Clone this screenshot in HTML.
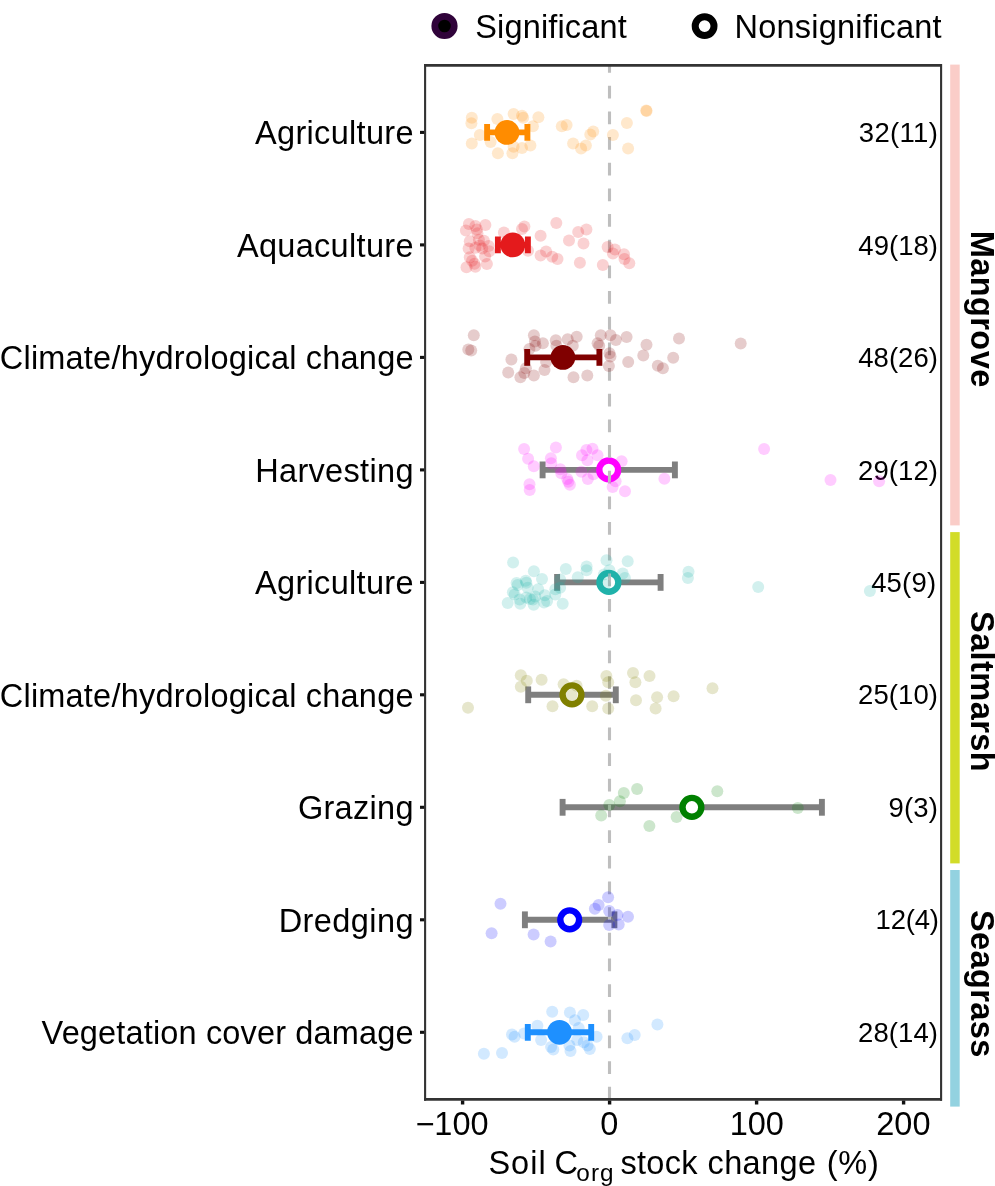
<!DOCTYPE html>
<html><head><meta charset="utf-8"><title>Soil Corg stock change</title>
<style>html,body{margin:0;padding:0;background:#fff}svg{display:block;will-change:transform}text{font-family:"Liberation Sans",sans-serif;fill:#000}</style></head><body>
<svg width="995" height="1186" viewBox="0 0 995 1186">
<rect x="0" y="0" width="995" height="1186" fill="#fff"/>
<defs><clipPath id="pc"><rect x="425" y="65" width="516" height="1034.5"/></clipPath></defs>
<rect x="950.2" y="64.6" width="9.5" height="460.8" fill="#FACDC8"/>
<rect x="950.2" y="532.1" width="9.5" height="331.3" fill="#D2DC28"/>
<rect x="950.2" y="870" width="9.5" height="236.6" fill="#93D2E0"/>
<g clip-path="url(#pc)">
<g stroke="#FF8C00" stroke-width="5.9" fill="none"><line x1="487.1" y1="132.4" x2="527.4" y2="132.4"/><line x1="487.1" y1="124.0" x2="487.1" y2="140.8"/><line x1="527.4" y1="124.0" x2="527.4" y2="140.8"/></g>
<circle cx="507.0" cy="132.4" r="12.4" fill="#FF8C00"/>
<g stroke="#E41A1C" stroke-width="5.9" fill="none"><line x1="497.9" y1="244.9" x2="527.9" y2="244.9"/><line x1="497.9" y1="236.5" x2="497.9" y2="253.3"/><line x1="527.9" y1="236.5" x2="527.9" y2="253.3"/></g>
<circle cx="512.8" cy="244.9" r="12.4" fill="#E41A1C"/>
<g stroke="#800000" stroke-width="5.9" fill="none"><line x1="527.2" y1="357.4" x2="599.4" y2="357.4"/><line x1="527.2" y1="349.0" x2="527.2" y2="365.8"/><line x1="599.4" y1="349.0" x2="599.4" y2="365.8"/></g>
<circle cx="562.9" cy="357.4" r="12.4" fill="#800000"/>
<g stroke="#7F7F7F" stroke-width="5.9" fill="none"><line x1="542.6" y1="469.9" x2="674.9" y2="469.9"/><line x1="542.6" y1="461.5" x2="542.6" y2="478.3"/><line x1="674.9" y1="461.5" x2="674.9" y2="478.3"/></g>
<circle cx="608.7" cy="469.9" r="9.4" fill="#fff" stroke="#FF00FF" stroke-width="6.4"/>
<g stroke="#7F7F7F" stroke-width="5.9" fill="none"><line x1="557.1" y1="582.4" x2="660.6" y2="582.4"/><line x1="557.1" y1="574.0" x2="557.1" y2="590.8"/><line x1="660.6" y1="574.0" x2="660.6" y2="590.8"/></g>
<circle cx="608.9" cy="582.4" r="9.4" fill="#fff" stroke="#20B2AA" stroke-width="6.4"/>
<g stroke="#7F7F7F" stroke-width="5.9" fill="none"><line x1="528.2" y1="694.8" x2="615.8" y2="694.8"/><line x1="528.2" y1="686.4" x2="528.2" y2="703.2"/><line x1="615.8" y1="686.4" x2="615.8" y2="703.2"/></g>
<circle cx="572.0" cy="694.8" r="9.4" fill="#fff" stroke="#808000" stroke-width="6.4"/>
<g stroke="#7F7F7F" stroke-width="5.9" fill="none"><line x1="562.6" y1="807.3" x2="821.9" y2="807.3"/><line x1="562.6" y1="798.9" x2="562.6" y2="815.7"/><line x1="821.9" y1="798.9" x2="821.9" y2="815.7"/></g>
<circle cx="691.9" cy="807.3" r="9.4" fill="#fff" stroke="#008000" stroke-width="6.4"/>
<g stroke="#7F7F7F" stroke-width="5.9" fill="none"><line x1="524.9" y1="919.8" x2="614.4" y2="919.8"/><line x1="524.9" y1="911.4" x2="524.9" y2="928.2"/><line x1="614.4" y1="911.4" x2="614.4" y2="928.2"/></g>
<circle cx="569.7" cy="919.8" r="9.4" fill="#fff" stroke="#0000FF" stroke-width="6.4"/>
<g stroke="#1E90FF" stroke-width="5.9" fill="none"><line x1="527.8" y1="1032.3" x2="591.2" y2="1032.3"/><line x1="527.8" y1="1023.9" x2="527.8" y2="1040.7"/><line x1="591.2" y1="1023.9" x2="591.2" y2="1040.7"/></g>
<circle cx="559.5" cy="1032.3" r="12.4" fill="#1E90FF"/>
<line x1="609.5" y1="1099.6" x2="609.5" y2="55" stroke="#BEBEBE" stroke-width="3.1" stroke-dasharray="12.75 12.92"/>
<text x="858.8" y="142.0" font-size="27.5" letter-spacing="0.33">32(11)</text>
<text x="858.35" y="254.5" font-size="27.5" letter-spacing="0.02">49(18)</text>
<text x="858.25" y="367.0" font-size="27.5" letter-spacing="0.04">48(26)</text>
<text x="858.0" y="479.5" font-size="27.5" letter-spacing="0.09">29(12)</text>
<text x="871.15" y="592.0" font-size="27.5" letter-spacing="0.19">45(9)</text>
<text x="858.0" y="704.4" font-size="27.5" letter-spacing="0.09">25(10)</text>
<text x="888.45" y="816.9" font-size="27.5" letter-spacing="0.17">9(3)</text>
<text x="875.6" y="929.4" font-size="27.5" letter-spacing="-0.22">12(4)</text>
<text x="858.0" y="1041.9" font-size="27.5" letter-spacing="0.09">28(14)</text>
<g fill="#FF8C00" fill-opacity="0.2"><circle cx="471.8" cy="117.7" r="6.0"/><circle cx="471.4" cy="123.3" r="6.0"/><circle cx="479.8" cy="135.1" r="6.0"/><circle cx="471.8" cy="143.5" r="6.0"/><circle cx="497.4" cy="118.9" r="6.0"/><circle cx="490.6" cy="141.9" r="6.0"/><circle cx="497.9" cy="153.2" r="6.0"/><circle cx="513.6" cy="114.1" r="6.0"/><circle cx="522.0" cy="115.8" r="6.0"/><circle cx="523.2" cy="117.7" r="6.0"/><circle cx="538.4" cy="117.3" r="6.0"/><circle cx="532.9" cy="126.2" r="6.0"/><circle cx="530.4" cy="145.5" r="6.0"/><circle cx="522.0" cy="147.9" r="6.0"/><circle cx="513.6" cy="146.7" r="6.0"/><circle cx="512.4" cy="153.2" r="6.0"/><circle cx="561.8" cy="126.2" r="6.0"/><circle cx="566.6" cy="125.0" r="6.0"/><circle cx="573.1" cy="143.5" r="6.0"/><circle cx="581.1" cy="148.4" r="6.0"/><circle cx="585.9" cy="145.5" r="6.0"/><circle cx="590.3" cy="134.6" r="6.0"/><circle cx="593.2" cy="131.5" r="6.0"/><circle cx="612.9" cy="135.1" r="6.0"/><circle cx="626.9" cy="123.0" r="6.0"/><circle cx="628.1" cy="148.6" r="6.0"/><circle cx="646.2" cy="110.5" r="6.0"/><circle cx="646.6" cy="111.0" r="6.0"/></g>
<g fill="#E41A1C" fill-opacity="0.2"><circle cx="468.9" cy="223.9" r="6.0"/><circle cx="465.9" cy="230.4" r="6.0"/><circle cx="475.4" cy="225.9" r="6.0"/><circle cx="476.8" cy="229.5" r="6.0"/><circle cx="485.4" cy="225.1" r="6.0"/><circle cx="477.4" cy="233.3" r="6.0"/><circle cx="469.8" cy="241.3" r="6.0"/><circle cx="478.9" cy="239.8" r="6.0"/><circle cx="483.9" cy="240.7" r="6.0"/><circle cx="468.6" cy="248.4" r="6.0"/><circle cx="475.4" cy="247.8" r="6.0"/><circle cx="479.8" cy="245.4" r="6.0"/><circle cx="482.2" cy="248.4" r="6.0"/><circle cx="488.6" cy="246.0" r="6.0"/><circle cx="489.2" cy="251.3" r="6.0"/><circle cx="469.8" cy="257.2" r="6.0"/><circle cx="472.1" cy="260.8" r="6.0"/><circle cx="474.5" cy="263.7" r="6.0"/><circle cx="485.1" cy="256.6" r="6.0"/><circle cx="486.9" cy="264.0" r="6.0"/><circle cx="466.5" cy="267.3" r="6.0"/><circle cx="475.4" cy="266.7" r="6.0"/><circle cx="503.9" cy="232.6" r="6.0"/><circle cx="522.0" cy="228.9" r="6.0"/><circle cx="524.4" cy="226.5" r="6.0"/><circle cx="528.0" cy="250.7" r="6.0"/><circle cx="540.6" cy="235.7" r="6.0"/><circle cx="540.6" cy="255.5" r="6.0"/><circle cx="546.1" cy="251.4" r="6.0"/><circle cx="552.2" cy="256.7" r="6.0"/><circle cx="557.5" cy="259.1" r="6.0"/><circle cx="556.3" cy="222.9" r="6.0"/><circle cx="569.0" cy="240.5" r="6.0"/><circle cx="578.2" cy="232.1" r="6.0"/><circle cx="586.4" cy="229.4" r="6.0"/><circle cx="583.5" cy="243.4" r="6.0"/><circle cx="579.9" cy="262.7" r="6.0"/><circle cx="602.8" cy="265.1" r="6.0"/><circle cx="607.6" cy="247.0" r="6.0"/><circle cx="614.9" cy="249.4" r="6.0"/><circle cx="612.9" cy="253.5" r="6.0"/><circle cx="624.0" cy="254.3" r="6.0"/><circle cx="624.5" cy="259.1" r="6.0"/><circle cx="629.3" cy="263.2" r="6.0"/></g>
<g fill="#800000" fill-opacity="0.2"><circle cx="473.8" cy="335.2" r="6.0"/><circle cx="468.3" cy="349.6" r="6.0"/><circle cx="471.2" cy="350.6" r="6.0"/><circle cx="511.4" cy="359.6" r="6.0"/><circle cx="508.2" cy="372.5" r="6.0"/><circle cx="520.4" cy="377.3" r="6.0"/><circle cx="524.3" cy="373.1" r="6.0"/><circle cx="525.9" cy="368.3" r="6.0"/><circle cx="533.9" cy="375.4" r="6.0"/><circle cx="544.5" cy="369.9" r="6.0"/><circle cx="546.1" cy="361.9" r="6.0"/><circle cx="529.4" cy="349.0" r="6.0"/><circle cx="533.9" cy="335.2" r="6.0"/><circle cx="534.9" cy="341.6" r="6.0"/><circle cx="535.5" cy="345.8" r="6.0"/><circle cx="542.9" cy="343.2" r="6.0"/><circle cx="555.8" cy="340.3" r="6.0"/><circle cx="556.4" cy="345.8" r="6.0"/><circle cx="567.7" cy="339.3" r="6.0"/><circle cx="572.8" cy="345.8" r="6.0"/><circle cx="576.7" cy="336.8" r="6.0"/><circle cx="573.5" cy="377.3" r="6.0"/><circle cx="587.3" cy="375.4" r="6.0"/><circle cx="597.6" cy="343.2" r="6.0"/><circle cx="599.2" cy="345.8" r="6.0"/><circle cx="600.8" cy="335.2" r="6.0"/><circle cx="610.5" cy="335.2" r="6.0"/><circle cx="615.9" cy="340.0" r="6.0"/><circle cx="609.5" cy="353.2" r="6.0"/><circle cx="610.5" cy="356.4" r="6.0"/><circle cx="608.9" cy="366.0" r="6.0"/><circle cx="626.6" cy="337.1" r="6.0"/><circle cx="628.2" cy="361.9" r="6.0"/><circle cx="643.3" cy="355.4" r="6.0"/><circle cx="646.5" cy="344.8" r="6.0"/><circle cx="657.8" cy="365.7" r="6.0"/><circle cx="662.9" cy="368.3" r="6.0"/><circle cx="673.2" cy="357.7" r="6.0"/><circle cx="679.0" cy="338.4" r="6.0"/><circle cx="740.7" cy="343.5" r="6.0"/></g>
<g fill="#FF00FF" fill-opacity="0.2"><circle cx="524.1" cy="449.1" r="6.0"/><circle cx="528.1" cy="458.8" r="6.0"/><circle cx="533.8" cy="466.2" r="6.0"/><circle cx="529.5" cy="484.3" r="6.0"/><circle cx="529.7" cy="489.9" r="6.0"/><circle cx="555.9" cy="447.5" r="6.0"/><circle cx="550.9" cy="458.2" r="6.0"/><circle cx="551.3" cy="463.2" r="6.0"/><circle cx="560.3" cy="469.2" r="6.0"/><circle cx="561.3" cy="473.2" r="6.0"/><circle cx="567.3" cy="478.9" r="6.0"/><circle cx="568.3" cy="481.7" r="6.0"/><circle cx="569.9" cy="484.7" r="6.0"/><circle cx="582.0" cy="455.2" r="6.0"/><circle cx="586.4" cy="450.1" r="6.0"/><circle cx="592.5" cy="448.7" r="6.0"/><circle cx="597.5" cy="455.2" r="6.0"/><circle cx="587.4" cy="460.2" r="6.0"/><circle cx="581.4" cy="471.8" r="6.0"/><circle cx="587.8" cy="478.9" r="6.0"/><circle cx="593.5" cy="474.2" r="6.0"/><circle cx="621.6" cy="461.2" r="6.0"/><circle cx="615.6" cy="481.3" r="6.0"/><circle cx="612.6" cy="486.9" r="6.0"/><circle cx="625.0" cy="491.3" r="6.0"/><circle cx="664.4" cy="478.7" r="6.0"/><circle cx="764.1" cy="449.1" r="6.0"/><circle cx="830.5" cy="480.1" r="6.0"/><circle cx="879.1" cy="481.3" r="6.0"/></g>
<g fill="#20B2AA" fill-opacity="0.2"><circle cx="513.1" cy="562.4" r="6.0"/><circle cx="533.9" cy="571.2" r="6.0"/><circle cx="542.0" cy="578.9" r="6.0"/><circle cx="565.8" cy="569.0" r="6.0"/><circle cx="525.7" cy="580.7" r="6.0"/><circle cx="526.3" cy="582.7" r="6.0"/><circle cx="516.6" cy="582.9" r="6.0"/><circle cx="517.7" cy="585.1" r="6.0"/><circle cx="512.9" cy="592.2" r="6.0"/><circle cx="514.7" cy="594.4" r="6.0"/><circle cx="507.7" cy="603.0" r="6.0"/><circle cx="520.3" cy="603.7" r="6.0"/><circle cx="530.0" cy="598.9" r="6.0"/><circle cx="533.0" cy="599.6" r="6.0"/><circle cx="533.7" cy="604.8" r="6.0"/><circle cx="538.2" cy="589.2" r="6.0"/><circle cx="535.2" cy="596.6" r="6.0"/><circle cx="544.9" cy="595.2" r="6.0"/><circle cx="544.1" cy="602.6" r="6.0"/><circle cx="547.1" cy="601.1" r="6.0"/><circle cx="555.3" cy="589.2" r="6.0"/><circle cx="555.3" cy="594.4" r="6.0"/><circle cx="560.1" cy="587.7" r="6.0"/><circle cx="562.7" cy="603.7" r="6.0"/><circle cx="560.1" cy="579.5" r="6.0"/><circle cx="527.7" cy="587.7" r="6.0"/><circle cx="519.6" cy="599.6" r="6.0"/><circle cx="526.3" cy="597.4" r="6.0"/><circle cx="577.8" cy="577.2" r="6.0"/><circle cx="586.6" cy="566.4" r="6.0"/><circle cx="586.6" cy="570.2" r="6.0"/><circle cx="606.5" cy="560.2" r="6.0"/><circle cx="609.4" cy="570.2" r="6.0"/><circle cx="603.9" cy="574.6" r="6.0"/><circle cx="605.0" cy="584.5" r="6.0"/><circle cx="627.7" cy="561.3" r="6.0"/><circle cx="622.7" cy="573.5" r="6.0"/><circle cx="624.9" cy="577.9" r="6.0"/><circle cx="688.5" cy="571.7" r="6.0"/><circle cx="687.9" cy="577.9" r="6.0"/><circle cx="758.2" cy="587.1" r="6.0"/><circle cx="869.9" cy="591.0" r="6.0"/></g>
<g fill="#808000" fill-opacity="0.2"><circle cx="468.0" cy="707.8" r="6.0"/><circle cx="520.8" cy="675.2" r="6.0"/><circle cx="526.8" cy="680.7" r="6.0"/><circle cx="520.8" cy="686.7" r="6.0"/><circle cx="541.6" cy="679.8" r="6.0"/><circle cx="552.5" cy="706.3" r="6.0"/><circle cx="563.6" cy="684.3" r="6.0"/><circle cx="571.7" cy="695.1" r="6.0"/><circle cx="576.6" cy="685.8" r="6.0"/><circle cx="592.2" cy="706.3" r="6.0"/><circle cx="606.4" cy="676.1" r="6.0"/><circle cx="608.2" cy="682.2" r="6.0"/><circle cx="605.8" cy="695.7" r="6.0"/><circle cx="608.2" cy="708.4" r="6.0"/><circle cx="633.0" cy="673.1" r="6.0"/><circle cx="635.4" cy="682.2" r="6.0"/><circle cx="649.5" cy="676.1" r="6.0"/><circle cx="636.0" cy="700.3" r="6.0"/><circle cx="657.1" cy="697.2" r="6.0"/><circle cx="655.6" cy="708.4" r="6.0"/><circle cx="673.6" cy="696.3" r="6.0"/><circle cx="712.5" cy="688.2" r="6.0"/></g>
<g fill="#008000" fill-opacity="0.2"><circle cx="601.2" cy="815.4" r="6.0"/><circle cx="609.3" cy="805.1" r="6.0"/><circle cx="619.9" cy="801.2" r="6.0"/><circle cx="623.8" cy="793.1" r="6.0"/><circle cx="637.1" cy="789.1" r="6.0"/><circle cx="649.4" cy="825.9" r="6.0"/><circle cx="676.6" cy="816.9" r="6.0"/><circle cx="717.3" cy="791.2" r="6.0"/><circle cx="797.8" cy="808.1" r="6.0"/></g>
<g fill="#0000FF" fill-opacity="0.2"><circle cx="500.5" cy="903.8" r="6.0"/><circle cx="491.6" cy="933.3" r="6.0"/><circle cx="533.6" cy="934.4" r="6.0"/><circle cx="550.6" cy="941.4" r="6.0"/><circle cx="594.9" cy="908.7" r="6.0"/><circle cx="598.6" cy="905.0" r="6.0"/><circle cx="608.1" cy="897.2" r="6.0"/><circle cx="609.2" cy="910.9" r="6.0"/><circle cx="617.4" cy="914.9" r="6.0"/><circle cx="609.2" cy="924.9" r="6.0"/><circle cx="618.7" cy="924.4" r="6.0"/><circle cx="628.0" cy="916.7" r="6.0"/></g>
<g fill="#1E90FF" fill-opacity="0.2"><circle cx="483.9" cy="1053.8" r="6.0"/><circle cx="502.0" cy="1052.9" r="6.0"/><circle cx="512.0" cy="1034.5" r="6.0"/><circle cx="514.6" cy="1036.7" r="6.0"/><circle cx="524.1" cy="1033.4" r="6.0"/><circle cx="537.4" cy="1025.7" r="6.0"/><circle cx="541.1" cy="1040.1" r="6.0"/><circle cx="552.2" cy="1011.8" r="6.0"/><circle cx="551.1" cy="1047.1" r="6.0"/><circle cx="553.3" cy="1049.6" r="6.0"/><circle cx="569.9" cy="1012.4" r="6.0"/><circle cx="575.0" cy="1020.2" r="6.0"/><circle cx="583.2" cy="1015.1" r="6.0"/><circle cx="578.7" cy="1027.9" r="6.0"/><circle cx="577.2" cy="1040.1" r="6.0"/><circle cx="569.4" cy="1045.6" r="6.0"/><circle cx="570.5" cy="1051.1" r="6.0"/><circle cx="583.8" cy="1042.3" r="6.0"/><circle cx="587.6" cy="1045.6" r="6.0"/><circle cx="589.8" cy="1048.9" r="6.0"/><circle cx="596.6" cy="1036.7" r="6.0"/><circle cx="627.4" cy="1038.3" r="6.0"/><circle cx="634.7" cy="1035.0" r="6.0"/><circle cx="657.4" cy="1024.6" r="6.0"/></g>
</g>
<g stroke="#333" fill="none">
<line x1="424.1" y1="65.4" x2="942" y2="65.4" stroke-width="2.8"/>
<line x1="424.1" y1="1099.4" x2="942" y2="1099.4" stroke-width="2.8"/>
<line x1="425.1" y1="64" x2="425.1" y2="1100.8" stroke-width="2.1"/>
<line x1="941.1" y1="64" x2="941.1" y2="1100.8" stroke-width="2.1"/>
</g>
<g stroke="#111" stroke-width="3.1">
<line x1="420.0" y1="132.4" x2="424.2" y2="132.4"/>
<line x1="420.0" y1="244.9" x2="424.2" y2="244.9"/>
<line x1="420.0" y1="357.4" x2="424.2" y2="357.4"/>
<line x1="420.0" y1="469.9" x2="424.2" y2="469.9"/>
<line x1="420.0" y1="582.4" x2="424.2" y2="582.4"/>
<line x1="420.0" y1="694.8" x2="424.2" y2="694.8"/>
<line x1="420.0" y1="807.3" x2="424.2" y2="807.3"/>
<line x1="420.0" y1="919.8" x2="424.2" y2="919.8"/>
<line x1="420.0" y1="1032.3" x2="424.2" y2="1032.3"/>
<line x1="462.6" y1="1100.6" x2="462.6" y2="1104.5" stroke-width="3.4"/>
<line x1="609.6" y1="1100.6" x2="609.6" y2="1104.5" stroke-width="3.4"/>
<line x1="756.6" y1="1100.6" x2="756.6" y2="1104.5" stroke-width="3.4"/>
<line x1="903.6" y1="1100.6" x2="903.6" y2="1104.5" stroke-width="3.4"/>
</g>
<text x="413.81" y="144.1" font-size="32.5" letter-spacing="0.31" text-anchor="end">Agriculture</text>
<text x="413.81" y="256.6" font-size="32.5" letter-spacing="0.31" text-anchor="end">Aquaculture</text>
<text x="413.71" y="369.1" font-size="32.5" letter-spacing="0.21" text-anchor="end">Climate/hydrological change</text>
<text x="413.83" y="481.6" font-size="32.5" letter-spacing="0.33" text-anchor="end">Harvesting</text>
<text x="413.81" y="594.1" font-size="32.5" letter-spacing="0.31" text-anchor="end">Agriculture</text>
<text x="413.71" y="706.5" font-size="32.5" letter-spacing="0.21" text-anchor="end">Climate/hydrological change</text>
<text x="413.80" y="819.0" font-size="32.5" letter-spacing="0.3" text-anchor="end">Grazing</text>
<text x="413.92" y="931.5" font-size="32.5" letter-spacing="0.42" text-anchor="end">Dredging</text>
<text x="413.65" y="1044.0" font-size="32.5" letter-spacing="0.15" text-anchor="end">Vegetation cover damage</text>
<text x="452.0" y="1135" font-size="32.5" text-anchor="middle">−100</text>
<text x="609.4" y="1135" font-size="32.5" text-anchor="middle">0</text>
<text x="756.8" y="1135" font-size="32.5" text-anchor="middle">100</text>
<text x="903.4" y="1135" font-size="32.5" text-anchor="middle">200</text>
<text x="488.4" y="1174.1" font-size="32.5" letter-spacing="1.03">Soil</text>
<text x="554.55" y="1174.1" font-size="32.5" letter-spacing="0">C</text>
<text x="576.3" y="1180.8" font-size="24.3" letter-spacing="1.1">org</text>
<text x="620.6" y="1174.1" font-size="32.5" letter-spacing="0.24">stock</text>
<text x="707.6" y="1174.1" font-size="32.5" letter-spacing="0.35">change</text>
<text x="826.7" y="1174.1" font-size="32.5" letter-spacing="0.85">(%)</text>
<circle cx="444.5" cy="26.0" r="9.7" fill="#000" stroke="#30033A" stroke-width="6.8"/>
<text x="475.2" y="37.8" font-size="32.5" letter-spacing="0.16">Significant</text>
<circle cx="704.6" cy="26.1" r="9.4" fill="#fff" stroke="#000" stroke-width="7"/>
<text x="734.6" y="37.8" font-size="32.5" letter-spacing="0.22">Nonsignificant</text>
<text transform="translate(970.8,309.2) rotate(90)" font-size="32.5" font-weight="bold" letter-spacing="0.42" text-anchor="middle">Mangrove</text>
<text transform="translate(970.8,691.5) rotate(90)" font-size="32.5" font-weight="bold" letter-spacing="0.42" text-anchor="middle">Saltmarsh</text>
<text transform="translate(970.8,983.9) rotate(90)" font-size="32.5" font-weight="bold" letter-spacing="0.42" text-anchor="middle">Seagrass</text>
</svg></body></html>
